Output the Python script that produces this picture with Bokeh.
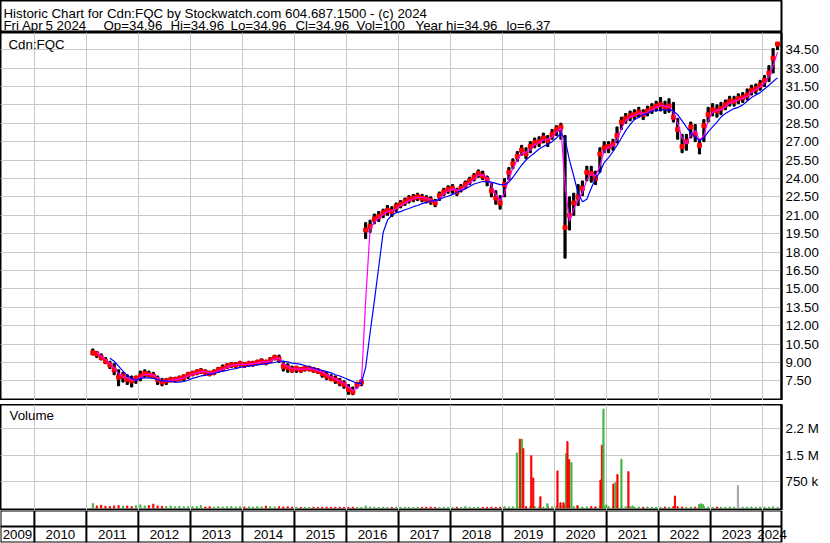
import pandas as pd
from datetime import datetime
from bokeh.plotting import figure
from bokeh.layouts import column
from bokeh.models import (Range1d, LinearAxis, FixedTicker, Grid, Label,
                          NumeralTickFormatter, ColumnDataSource)
from bokeh.core.properties import value
from bokeh.embed import file_html
from bokeh.resources import INLINE

# ---------------- data ----------------
first_month = "2011-02-01"
last_month = "2024-04-01"

close = [
    9.8, 9.7, 9.4, 9.1, 8.8, 8.4, 7.8, 7.9, 7.6, 7.5, 7.7,
    7.9, 8.1, 8.0, 7.9, 7.6, 7.4, 7.5, 7.6, 7.6, 7.7, 7.8, 8.0,
    8.1, 8.2, 8.3, 8.2, 8.1, 8.2, 8.4, 8.5, 8.7, 8.8, 8.8, 8.9,
    8.8, 8.9, 8.9, 9.0, 9.1, 9.0, 9.2, 9.4, 9.3, 8.7, 8.6, 8.4,
    8.5, 8.4, 8.5, 8.5, 8.4, 8.3, 8.1, 7.9, 7.7, 7.6, 7.4, 7.2,
    6.8, 6.6, 7.2, 7.4, 19.8, 20.1, 20.7, 20.9, 21.2, 21.4, 21.3, 21.7,
    21.9, 22.1, 22.3, 22.4, 22.5, 22.4, 22.3, 22.2, 22.0, 22.6, 22.9, 23.1,
    23.2, 22.9, 23.2, 23.5, 23.8, 24.1, 24.4, 24.2, 23.9, 23.0, 22.4, 22.0,
    23.5, 24.5, 25.2, 25.8, 26.3, 26.0, 26.6, 26.9, 27.0, 27.3, 27.1, 27.6,
    28.0, 28.2, 20.0, 21.0, 22.0, 22.5, 23.2, 24.5, 24.4, 24.0, 26.0, 26.5,
    26.6, 26.8, 27.5, 28.6, 28.9, 29.1, 29.2, 29.4, 29.2, 29.5, 29.7, 29.9,
    30.0, 29.8, 29.9, 29.0, 28.0, 26.6, 27.0, 28.2, 27.6, 26.7, 28.3, 29.2,
    29.6, 29.5, 29.7, 30.0, 30.3, 30.3, 30.5, 30.6, 30.8, 31.2, 31.3, 31.6,
    32.0, 32.6, 33.8, 34.96,
]
high = [
    10.1, 9.9, 9.7, 9.4, 9.1, 8.9, 8.4, 8.2, 8.0, 7.9, 7.9,
    8.3, 8.4, 8.3, 8.2, 7.9, 7.7, 7.7, 7.8, 7.8, 7.9, 8.0, 8.2,
    8.3, 8.4, 8.5, 8.4, 8.3, 8.4, 8.6, 8.8, 8.9, 9.0, 9.0, 9.1,
    9.0, 9.1, 9.1, 9.2, 9.3, 9.2, 9.4, 9.6, 9.6, 9.1, 8.9, 8.7,
    8.7, 8.6, 8.7, 8.7, 8.6, 8.5, 8.3, 8.2, 8.0, 7.9, 7.7, 7.5,
    7.2, 7.0, 7.4, 7.6, 20.4, 20.6, 21.1, 21.3, 21.5, 21.8, 21.7, 22.0,
    22.2, 22.4, 22.6, 22.7, 22.8, 22.7, 22.6, 22.5, 22.3, 22.9, 23.2, 23.4,
    23.5, 23.2, 23.5, 23.8, 24.1, 24.4, 24.7, 24.6, 24.2, 23.6, 23.0, 22.6,
    24.0, 24.9, 25.6, 26.2, 26.7, 26.5, 27.0, 27.3, 27.4, 27.7, 27.5, 28.0,
    28.3, 28.5, 27.5, 22.5, 22.8, 23.5, 23.8, 25.0, 25.0, 24.6, 26.5, 27.0,
    27.0, 27.2, 28.2, 29.0, 29.3, 29.5, 29.6, 29.8, 29.6, 29.9, 30.1, 30.3,
    30.6, 30.3, 30.5, 30.2, 28.9, 27.6, 27.6, 28.6, 28.4, 27.2, 28.8, 29.8,
    30.1, 30.0, 30.2, 30.4, 30.7, 30.7, 30.9, 31.0, 31.3, 31.6, 31.7, 32.0,
    32.4, 33.2, 34.6, 34.96,
]
low = [
    9.6, 9.4, 9.2, 8.9, 8.5, 8.0, 7.1, 7.4, 7.2, 7.0, 7.3,
    7.5, 7.8, 7.8, 7.7, 7.2, 7.1, 7.2, 7.4, 7.4, 7.5, 7.5, 7.7,
    7.9, 8.0, 8.1, 8.0, 7.9, 8.0, 8.2, 8.3, 8.5, 8.6, 8.6, 8.7,
    8.6, 8.7, 8.7, 8.8, 8.9, 8.8, 9.0, 9.2, 9.0, 8.3, 8.2, 8.2,
    8.2, 8.2, 8.3, 8.3, 8.2, 8.1, 7.8, 7.6, 7.5, 7.3, 7.1, 6.9,
    6.4, 6.37, 6.9, 7.1, 19.1, 19.6, 20.3, 20.5, 20.8, 21.0, 20.9, 21.3,
    21.6, 21.8, 22.0, 22.1, 22.2, 22.1, 22.0, 21.9, 21.7, 22.2, 22.6, 22.8,
    22.8, 22.6, 22.9, 23.2, 23.5, 23.8, 24.1, 23.9, 23.4, 22.5, 21.9, 21.5,
    22.5, 23.9, 24.8, 25.4, 25.9, 25.6, 26.1, 26.5, 26.6, 26.9, 26.6, 27.2,
    27.5, 27.2, 17.5, 19.8, 21.0, 21.8, 22.6, 23.8, 23.7, 23.5, 24.5, 26.1,
    26.1, 26.3, 26.9, 28.0, 28.5, 28.7, 28.8, 29.0, 28.8, 29.1, 29.3, 29.5,
    29.5, 29.3, 29.4, 28.6, 27.2, 26.1, 26.3, 27.3, 27.0, 26.0, 27.0, 28.6,
    29.1, 29.0, 29.2, 29.6, 29.9, 29.9, 30.1, 30.2, 30.4, 30.8, 30.9, 31.2,
    31.5, 31.9, 32.6, 34.5,
]

# magenta (short) average, starts 2011-03
fast_first = "2011-03-01"
ma_fast = [
    9.8, 9.55, 9.25, 8.95, 8.6, 8.1, 7.85, 7.75, 7.55, 7.6,
    7.8, 8.0, 8.05, 7.95, 7.75, 7.5, 7.45, 7.55, 7.6, 7.65, 7.75, 7.9,
    8.05, 8.15, 8.25, 8.25, 8.15, 8.15, 8.3, 8.45, 8.6, 8.75, 8.8, 8.85,
    8.85, 8.85, 8.9, 8.95, 9.05, 9.05, 9.1, 9.3, 9.35, 8.95, 8.65, 8.5,
    8.45, 8.45, 8.45, 8.5, 8.45, 8.35, 8.2, 8.0, 7.8, 7.65, 7.5, 7.3,
    7.0, 6.7, 6.9, 7.3, 14.0, 19.9, 20.4, 20.8, 21.05, 21.3, 21.35, 21.5,
    21.8, 22.0, 22.2, 22.35, 22.45, 22.45, 22.35, 22.25, 22.1, 22.3, 22.75, 23.0,
    23.15, 23.05, 23.05, 23.35, 23.65, 23.95, 24.25, 24.3, 24.05, 23.45, 22.7, 22.2,
    22.8, 24.0, 24.85, 25.5, 26.05, 26.15, 26.3, 26.75, 26.95, 27.15, 27.2, 27.35,
    27.8, 28.1, 23.5, 20.5, 21.5, 22.25, 22.85, 23.85, 24.45, 24.2, 25.0, 26.25,
    26.55, 26.7, 27.15, 28.05, 28.75, 29.0, 29.15, 29.3, 29.3, 29.35, 29.6, 29.8,
    29.95, 29.9, 29.85, 29.4, 28.5, 27.3, 26.8, 27.6, 27.9, 27.1, 27.5, 28.7,
    29.4, 29.55, 29.6, 29.85, 30.15, 30.3, 30.4, 30.55, 30.7, 31.0, 31.25, 31.45,
    31.8, 32.3, 33.2, 34.3,
]

# blue (long) average, starts 2011-06
slow_first = "2011-06-01"
ma_slow = [
    9.35, 9.1, 8.7, 8.3, 7.95, 7.7, 7.55,
    7.7, 7.75, 7.75, 7.7, 7.6, 7.5, 7.5, 7.45, 7.4, 7.4, 7.45, 7.55,
    7.7, 7.8, 7.9, 7.95, 8.05, 8.1, 8.2, 8.3, 8.35, 8.45, 8.5, 8.6,
    8.65, 8.7, 8.75, 8.8, 8.85, 8.9, 8.95, 9.0, 9.1, 9.1, 9.05, 8.95,
    8.9, 8.85, 8.75, 8.65, 8.55, 8.45, 8.35, 8.25, 8.15, 8.0, 7.9, 7.75,
    7.6, 7.45, 7.3, 7.3, 8.6, 11.4, 14.0, 16.8, 19.6, 20.6, 21.0, 21.2,
    21.3, 21.45, 21.55, 21.7, 21.8, 21.95, 22.05, 22.15, 22.2, 22.3, 22.45, 22.55,
    22.7, 22.85, 23.0, 23.15, 23.35, 23.55, 23.65, 23.75, 23.75, 23.7, 23.6, 23.5,
    23.5, 23.7, 24.1, 24.6, 25.1, 25.5, 25.8, 26.1, 26.4, 26.6, 26.8, 27.0,
    27.3, 27.7, 27.2, 25.5, 24.2, 22.8, 22.1, 22.3, 23.2, 24.0, 24.5, 25.3,
    25.7, 26.2, 26.7, 27.3, 27.9, 28.4, 28.8, 29.0, 29.2, 29.3, 29.5, 29.5,
    29.6, 29.6, 29.6, 29.5, 29.2, 28.7, 28.2, 27.7, 27.4, 27.1, 27.3, 27.8,
    28.2, 28.6, 29.0, 29.3, 29.5, 29.7, 29.8, 30.0, 30.3, 30.6, 30.8, 31.0,
    31.3, 31.6, 31.9, 32.2,
]

# typical daily volume per month (thousands)
base_volume_k = [
    130, 60, 80, 50, 45, 60, 70, 55, 60, 40, 70,
    90, 60, 70, 110, 60, 50, 45, 60, 40, 50, 35, 40,
    35, 40, 70, 30, 35, 30, 40, 30, 35, 45, 30, 40,
    30, 35, 30, 40, 30, 55, 35, 30, 40, 30, 35, 30,
    25, 20, 25, 20, 25, 20, 20, 25, 20, 20, 25, 20,
    20, 25, 20, 20, 60, 30, 25, 20, 25, 20, 20, 25,
    20, 25, 20, 20, 25, 20, 20, 25, 20, 20, 25, 20,
    20, 25, 20, 40, 20, 20, 25, 20, 20, 25, 20, 25,
    40, 30, 35, 50, 60, 40, 50, 40, 30, 30, 40, 35,
    50, 40, 80, 60, 40, 35, 30, 30, 40, 35, 60, 50,
    40, 50, 60, 50, 40, 35, 30, 30, 25, 30, 25, 25,
    25, 30, 25, 40, 35, 30, 25, 30, 25, 40, 40, 30,
    25, 30, 25, 25, 30, 25, 30, 25, 25, 30, 25, 30,
    30, 25, 35, 20,
]

# heavy volume days
spike_dates = ["2019-04-12", "2019-05-03", "2019-05-17", "2019-05-27", "2019-07-22",
               "2019-08-05", "2019-09-24", "2019-11-12", "2020-01-22", "2020-02-12",
               "2020-03-04", "2020-03-22", "2020-04-01", "2020-04-13", "2020-04-29",
               "2020-06-10", "2020-11-19", "2020-11-29", "2020-12-10", "2020-12-30",
               "2021-02-18", "2021-03-04", "2021-03-18", "2021-04-15", "2021-06-03",
               "2021-07-01", "2022-04-26", "2022-10-12", "2022-10-26", "2022-11-09",
               "2023-07-12"]
spike_volume = [1560000, 1950000, 1950000, 1680000, 1480000,
                850000, 320000, 120000, 1050000, 150000,
                150000, 1540000, 1880000, 1370000, 1290000,
                70000, 790000, 1780000, 2800000, 90000,
                680000, 720000, 950000, 1380000, 1030000,
                60000, 340000, 100000, 120000, 100000,
                640000]
spike_kind = ["up", "down", "up", "down", "down",
              "down", "down", "up", "down", "down",
              "down", "up", "down", "down", "up",
              "down", "down", "down", "up", "up",
              "down", "up", "down", "up", "down",
              "up", "down", "up", "up", "up",
              "flat"]

price_ticks = [7.5, 9.0, 10.5, 12.0, 13.5, 15.0, 16.5, 18.0, 19.5, 21.0, 22.5,
               24.0, 25.5, 27.0, 28.5, 30.0, 31.5, 33.0, 34.5]
volume_ticks = [750000, 1500000, 2250000]
volume_tick_labels = ["750 k", "1.5 M", "2.2 M"]
years = list(range(2009, 2025))

header_1 = "Historic Chart for Cdn:FQC by Stockwatch.com 604.687.1500 - (c) 2024"
header_2_parts = ["Fri Apr", "5 2024", "Op=34.96", "Hi=34.96", "Lo=34.96",
                  "Cl=34.96", "Vol=100", "Year hi=34.96", "lo=6.37"]
header_2_x = [3, 45, 103, 170, 230, 295, 356, 415, 506]   # layout offsets (px)

# ---------------- styling ----------------
FONT = "Liberation Sans"
FS = "13.3px"
W = 830
RIGHT = 49
GRID = "#c8c8c8"
RED = "#ff0000"
GREEN = "#44b844"
GRAY = "#a8a8a8"

months = pd.date_range(first_month, last_month, freq="MS")
assert len(months) == len(close) == len(high) == len(low) == len(base_volume_k)
bar_x = months + pd.Timedelta(days=14)
fast_x = pd.date_range(fast_first, last_month, freq="MS") + pd.Timedelta(days=14)
slow_x = pd.date_range(slow_first, last_month, freq="MS") + pd.Timedelta(days=14)
assert len(fast_x) == len(ma_fast) and len(slow_x) == len(ma_slow)

prev = [close[0]] + close[:-1]
vol_color = [GREEN if c >= p else RED for c, p in zip(close, prev)]
kind_color = {"up": GREEN, "down": RED, "flat": GRAY}


def ms(d):
    return (pd.Timestamp(d) - pd.Timestamp("1970-01-01")).total_seconds() * 1000.0


x_start = datetime(2009, 5, 8)
x_end = datetime(2024, 5, 13)
xr = Range1d(start=x_start, end=x_end)
year_bounds = [datetime(y, 1, 1) for y in years[1:]]
year_ms = [ms(d) for d in year_bounds]
DAY = 86400000.0


def base_fig(height, y_range, top=0, bottom=0):
    f = figure(width=W, height=height, x_range=xr, y_range=y_range,
               x_axis_type="datetime", x_axis_location=None, y_axis_location=None,
               toolbar_location=None, tools="", output_backend="svg",
               min_border_left=0, min_border_top=top, min_border_bottom=bottom,
               min_border_right=RIGHT, background_fill_color="white",
               border_fill_color="white", outline_line_color="black",
               outline_line_width=2)
    f.xgrid.visible = False
    f.ygrid.visible = False
    return f


def right_axis(f, ticks, fmt=None, overrides=None):
    ax = LinearAxis(ticker=FixedTicker(ticks=ticks))
    if fmt is not None:
        ax.formatter = fmt
    if overrides is not None:
        ax.major_label_overrides = overrides
    ax.axis_line_color = "black"
    ax.axis_line_width = 2
    ax.major_tick_line_color = None
    ax.minor_tick_line_color = None
    ax.major_tick_out = 0
    ax.major_tick_in = 0
    ax.major_label_standoff = 4
    ax.major_label_text_font = FONT
    ax.major_label_text_font_size = FS
    ax.major_label_text_color = "black"
    f.add_layout(ax, "right")


def text_label(x, y, txt, baseline="alphabetic"):
    return Label(x=x, y=y, x_units="screen", y_units="screen", text=txt,
                 text_font=FONT, text_font_size=FS, text_color="black",
                 text_baseline=baseline)


def plain_fig(height, right, line_width):
    f = figure(width=W, height=height, x_range=(0, 1), y_range=(0, 1),
               x_axis_location=None, y_axis_location=None,
               toolbar_location=None, tools="", output_backend="svg",
               min_border_left=0, min_border_top=0, min_border_bottom=0,
               min_border_right=right, outline_line_color="black",
               outline_line_width=line_width,
               background_fill_color="white", border_fill_color="white")
    f.xgrid.visible = False
    f.ygrid.visible = False
    return f


# ---------------- header ----------------
HH = 32
hdr = plain_fig(HH, 3, 2)
hdr.add_layout(text_label(3, HH - 12.5, header_1))
for xx, part in zip(header_2_x, header_2_parts):
    hdr.add_layout(text_label(xx, HH - 25, part))

# ---------------- price panel ----------------
PH = 368
p = base_fig(PH, Range1d(5.90, 35.90))
p.add_layout(Grid(dimension=0, ticker=FixedTicker(ticks=year_ms), grid_line_color=GRID))
p.add_layout(Grid(dimension=1, ticker=FixedTicker(ticks=price_ticks), grid_line_color=GRID))
right_axis(p, price_ticks, fmt=NumeralTickFormatter(format="0.00"))
src = ColumnDataSource(dict(x=bar_x, hi=high, lo=low, cl=close))
p.vbar(x="x", top="hi", bottom="lo", width=15 * DAY, color="black", source=src)
p.scatter(x="x", y="cl", marker="square", size=4, color=RED, source=src)
p.line(fast_x, ma_fast, line_color="#ff00ff", line_width=1.2)
p.line(slow_x, ma_slow, line_color="#0000ff", line_width=1.2)
p.add_layout(text_label(8, PH - 4, "Cdn:FQC", baseline="top"))

# thin full-width strip whose outline gives the double rule between the panels
rule = plain_fig(4, 0, 1)

# ---------------- volume panel ----------------
VH = 106
v = base_fig(VH, Range1d(-70000, 2930000))
v.add_layout(Grid(dimension=0, ticker=FixedTicker(ticks=year_ms), grid_line_color=GRID))
v.add_layout(Grid(dimension=1, ticker=FixedTicker(ticks=volume_ticks), grid_line_color=GRID))
right_axis(v, volume_ticks,
           overrides={t: lab for t, lab in zip(volume_ticks, volume_tick_labels)})
vsrc = ColumnDataSource(dict(x=bar_x, top=[k * 1000 for k in base_volume_k], color=vol_color))
v.vbar(x="x", top="top", bottom=0, width=8 * DAY, color="color", source=vsrc)
ssrc = ColumnDataSource(dict(x=pd.to_datetime(spike_dates), top=spike_volume,
                             color=[kind_color[k] for k in spike_kind]))
v.vbar(x="x", top="top", bottom=0, width=8 * DAY, color="color", source=ssrc)
v.add_layout(text_label(9, VH - 3, "Volume", baseline="top"))

# ---------------- year strip (frame runs under the label column too) ----------------
SH = 33
span_all = pd.Timestamp(x_end) - pd.Timestamp(x_start)
strip_end = pd.Timestamp(x_start) + span_all * (W / (W - RIGHT))
s = figure(width=W, height=SH, x_range=Range1d(start=x_start, end=strip_end),
           y_range=Range1d(0, 2), x_axis_type="datetime",
           x_axis_location=None, y_axis_location=None,
           toolbar_location=None, tools="", output_backend="svg",
           min_border_left=0, min_border_top=0, min_border_bottom=1, min_border_right=0,
           outline_line_color=None, background_fill_color="white",
           border_fill_color="white", frame_align=False)
s.xgrid.visible = False
s.ygrid.visible = False
s.segment(x0=year_bounds, y0=0, x1=year_bounds, y1=2, line_color="black", line_width=2)
s.segment(x0=[x_start] * 3, y0=[0, 1, 2], x1=[x_end] * 3, y1=[0, 1, 2],
          line_color="black", line_width=2)
s.segment(x0=[x_start, x_end], y0=[0, 0], x1=[x_start, x_end], y1=[2, 2],
          line_color="black", line_width=2)
edges = [pd.Timestamp(x_start)] + [pd.Timestamp(d) for d in year_bounds] + [pd.Timestamp(x_end)]
label_x = [edges[i] + (edges[i + 1] - edges[i]) / 2 for i in range(len(years))]
s.text(x=label_x, y=[0.5] * len(label_x), text=[str(y) for y in years],
       text_font=value(FONT), text_font_size=value(FS), text_color="black",
       text_align="center", text_baseline="middle")

layout = column(hdr, p, rule, v, s, spacing=0)
open("out.html", "w").write(file_html(layout, INLINE, title="Cdn:FQC"))
